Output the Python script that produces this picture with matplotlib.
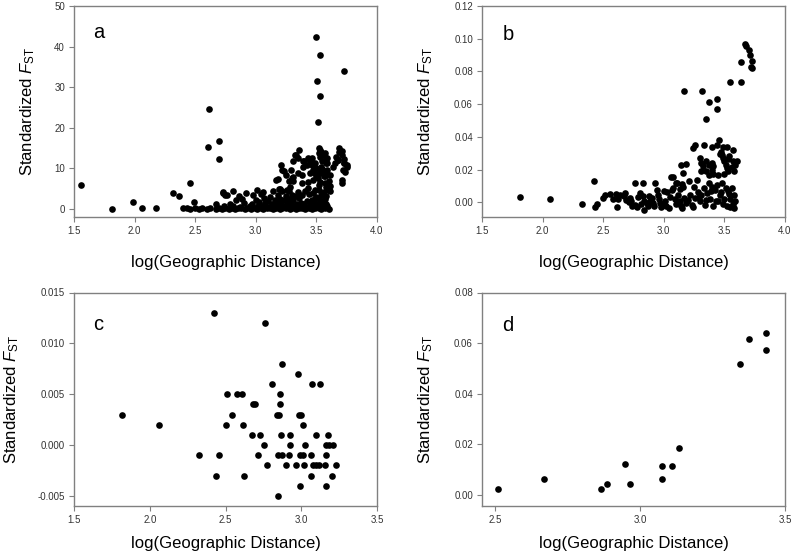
import matplotlib
matplotlib.use('Agg')
import matplotlib.pyplot as plt

plt.rcParams['font.family'] = ['Liberation Sans', 'DejaVu Sans']
plt.rcParams['mathtext.fontset'] = 'custom'
plt.rcParams['mathtext.rm'] = 'Liberation Sans'
plt.rcParams['mathtext.it'] = 'Liberation Sans:italic'

# ---------------- Panel a ----------------
a_x = [1.554, 1.815, 1.986, 2.06, 2.173, 2.316, 2.363, 2.454, 2.49, 2.40, 2.43, 2.46, 2.50, 2.53, 2.56, 2.60, 2.62,
       2.611, 2.608, 2.693, 2.693, 2.674, 2.73, 2.75,
       # row ~0
       2.67, 2.70, 2.72, 2.75, 2.78, 2.80, 2.83, 2.85, 2.88, 2.91, 2.93, 2.96, 2.99, 3.01, 3.04, 3.06, 3.09, 3.12,
       3.14, 3.17, 3.20, 3.22, 3.25, 3.28, 3.30, 3.33, 3.36, 3.38, 3.41, 3.44, 3.46, 3.49, 3.52, 3.54, 3.57, 3.60,
       # row ~0.6
       2.74, 2.81, 2.87, 2.95, 3.02, 3.05, 3.11, 3.15, 3.19, 3.24, 3.27, 3.32, 3.35, 3.39, 3.43, 3.47, 3.50, 3.53,
       3.56, 3.59,
       # row ~1.4
       2.79, 2.90, 2.97, 3.03, 3.08, 3.13, 3.18, 3.21, 3.26, 3.29, 3.34, 3.37, 3.40, 3.45, 3.48, 3.51, 3.55, 3.58,
       # row ~2.3
       2.84, 2.89, 3.00, 3.07, 3.10, 3.16, 3.20, 3.23, 3.28, 3.31, 3.36, 3.42, 3.46, 3.49, 3.53, 3.57,
       # row ~3.3
       2.76, 2.86, 2.98, 3.04, 3.12, 3.18, 3.25, 3.30, 3.33, 3.38, 3.44, 3.50, 3.54, 3.58,
       # row ~4.3
       2.73, 2.81, 2.92, 3.01, 3.06, 3.14, 3.22, 3.35, 3.41, 3.47, 3.52, 3.56,
       # tall outliers
       3.50, 3.527, 3.505, 3.527, 3.517, 3.728,
       # upper cluster
       3.53, 3.52, 3.36, 3.32, 3.35, 3.39, 3.42, 3.45, 3.46, 3.49,
       3.69, 3.71, 3.68, 3.73, 3.75, 3.74, 3.71,
       3.21, 3.22, 3.29, 3.18, 3.31, 3.38, 3.43, 3.25, 3.38, 3.28, 3.20, 3.27,
       3.50, 3.53, 3.54, 3.56, 3.57, 3.58, 3.60, 3.51, 3.52, 3.49, 3.55, 3.58, 3.59, 3.61, 3.53, 3.57, 3.59, 3.49,
       3.47, 3.45,
       3.69, 3.71, 3.73, 3.75, 3.72, 3.71, 3.66, 3.64, 3.68, 3.73, 3.65,
       3.23, 3.17, 3.19, 3.26, 3.31, 3.27, 3.30, 3.35, 3.39, 3.43, 3.33, 3.31, 3.40, 3.43, 3.46, 3.52, 3.54, 3.55,
       3.58, 3.59, 3.55, 3.53, 3.50, 3.57, 3.60, 3.61, 3.61, 3.53, 3.58, 3.47]
a_y = [5.9, 0.0, 1.8, 0.1, 0.1, 3.9, 3.2, 6.4, 1.6, 0.1, 0.1, 0.0, 0.1, 0.0, 0.1, 0.0, 0.2,
       24.5, 15.3, 16.8, 12.3, 1.2, 4.0, 3.5,
       0.0, 0.1, 0.0, 0.2, 0.0, 0.1, 0.0, 0.2, 0.1, 0.0, 0.1, 0.0, 0.2, 0.0, 0.1, 0.0, 0.2, 0.1,
       0.0, 0.1, 0.0, 0.2, 0.1, 0.0, 0.1, 0.0, 0.2, 0.1, 0.0, 0.1, 0.0, 0.2, 0.1, 0.0, 0.1, 0.0,
       0.6, 0.7, 0.5, 0.8, 0.6, 0.7, 0.5, 0.8, 0.6, 0.7, 0.5, 0.8, 0.6, 0.7, 0.5, 0.8, 0.6, 0.7,
       0.5, 0.8,
       1.3, 1.5, 1.2, 1.6, 1.4, 1.3, 1.5, 1.2, 1.6, 1.4, 1.3, 1.5, 1.2, 1.6, 1.4, 1.3, 1.5, 1.2,
       2.1, 2.4, 2.2, 2.6, 2.0, 2.3, 2.5, 2.1, 2.4, 2.2, 2.6, 2.0, 2.3, 2.5, 2.1, 2.4,
       3.4, 3.1, 3.3, 3.6, 3.0, 3.5, 3.2, 3.4, 3.1, 3.3, 3.6, 3.0, 3.5, 3.2,
       4.2, 4.4, 4.0, 4.6, 4.1, 4.3, 4.5, 4.2, 4.4, 4.0, 4.6, 4.1,
       42.3, 37.9, 31.5, 27.7, 21.3, 33.9,
       14.5, 13.7, 14.4, 13.3, 12.5, 11.7, 10.8, 11.7, 12.5, 11.2,
       14.1, 13.3, 12.1, 11.4, 10.4, 9.2, 6.3,
       10.8, 9.6, 9.6, 7.3, 7.8, 6.3, 6.7, 8.4, 8.4, 5.5, 4.8, 4.5,
       10.0, 8.8, 10.4, 8.0, 6.3, 5.5, 4.7, 7.6, 5.9, 4.7, 11.7, 11.2, 9.6, 8.4, 12.9, 13.7, 12.5, 8.8,
       7.1, 8.8,
       15.0, 14.3, 12.2, 10.8, 9.5, 7.0, 12.8, 10.4, 12.0, 11.2, 11.2,
       9.4, 7.2, 5.0, 4.6, 6.8, 6.8, 7.6, 8.8, 10.4, 5.1, 13.4, 11.8, 11.9, 12.5, 10.8, 15.0, 13.9, 13.4,
       12.5, 11.3, 9.9, 9.0, 8.2, 8.2, 6.9, 5.6, 4.5, 6.6, 9.0, 9.5]

# ---------------- Panel b ----------------
b_x = [1.816, 2.062, 2.322, 2.421, 2.43, 2.45, 2.50, 2.517, 2.56, 2.582, 2.607, 2.618, 2.615,
       2.68, 2.67, 2.69, 2.71, 2.73, 2.76, 2.78, 2.76, 2.83, 2.80, 2.83, 2.84, 2.86, 2.87, 2.89, 2.90, 2.91,
       2.84, 2.93, 2.94, 2.95, 2.96, 2.97, 2.98, 2.99, 3.01, 3.03, 3.05, 3.06, 3.08, 3.09, 3.10, 3.11, 3.12,
       3.13, 3.14, 3.15, 3.17, 3.18, 3.19, 2.64, 2.72, 2.74, 2.79, 2.81, 2.88, 2.92, 3.00, 3.02, 3.04, 3.07,
       3.16, 3.20, 3.21, 3.22, 3.23, 3.25, 3.26, 3.27, 3.28, 3.30, 3.31, 3.33, 3.34, 3.36, 3.37, 3.38, 3.40,
       3.41, 3.42, 3.44, 3.45, 3.46, 3.47, 3.48, 3.50, 3.51, 3.52, 3.53, 3.54, 3.55, 3.56, 3.57, 3.58, 3.59,
       3.24, 3.29, 3.35, 3.39, 3.43, 3.49, 3.55, 3.58,
       # mid cluster
       3.456, 3.437, 3.396, 3.330, 3.259, 3.240, 3.524, 3.567, 3.47, 3.48, 3.49, 3.50, 3.51, 3.52, 3.53,
       3.572, 3.60, 3.59, 3.58, 3.30, 3.305, 3.32, 3.35, 3.37, 3.40, 3.41, 3.31, 3.35, 3.37, 3.40, 3.41,
       3.14, 3.18, 3.16, 3.08, 3.10, 3.15, 3.13, 3.46, 3.49, 3.54, 3.56, 3.45, 3.50, 3.53,
       # upper
       3.670, 3.675, 3.700, 3.714, 3.640, 3.728, 3.72, 3.728, 3.549, 3.637, 3.169, 3.317, 3.377, 3.440,
       3.440, 3.349]
b_y = [0.003, 0.0018, -0.001, 0.0132, -0.003, -0.001, 0.0026, 0.0047, 0.0051, 0.0022, 0.0051, 0.0018, -0.003,
       0.0057, 0.0037, 0.0016, 0.0, 0.001, -0.0014, -0.003, 0.0118, 0.0118, 0.0057, 0.0037, 0.001, -0.0005,
       -0.002, 0.0006, 0.0026, -0.0005,
       -0.005, 0.0118, 0.0077, 0.0047, 0.002, -0.0005, -0.003, -0.0014, 0.001, 0.006, 0.0035, 0.0153, 0.009,
       0.002, -0.001, 0.012, 0.0047,
       0.0006, -0.002, -0.0035, 0.0026, -0.0005, 0.0006, 0.0045, 0.0025, -0.002, 0.0035, -0.001, 0.004,
       -0.0025, 0.0066, -0.002, -0.0035, 0.0075,
       0.0095, 0.0012, 0.0128, 0.0045, -0.0015, 0.0095, 0.0025, 0.0135, 0.006, 0.001, 0.0045, 0.0085, -0.0015,
       0.0055, 0.0118, 0.002, 0.0095, -0.0025, 0.0075, 0.0105, 0.0008, 0.0045, 0.006, 0.0115, 0.002, 0.009,
       -0.0025, 0.0068, 0.0048, 0.0022, 0.0085, -0.001, 0.0042, 0.0008,
       -0.0028, 0.0035, 0.0015, 0.0068, 0.0005, -0.001, -0.003, -0.0035,
       0.0383, 0.0348, 0.0338, 0.0348, 0.0348, 0.0332, 0.0338, 0.0318, 0.031, 0.029, 0.027, 0.025, 0.023,
       0.021, 0.019,
       0.0255, 0.0255, 0.0226, 0.019, 0.027, 0.024, 0.022, 0.025, 0.023, 0.024, 0.022, 0.019, 0.019, 0.0165,
       0.020, 0.017,
       0.023, 0.0236, 0.018, 0.0153, 0.0118, 0.011, 0.008, 0.0295, 0.0335, 0.0285, 0.0215, 0.0165, 0.0175,
       0.0265,
       0.0967, 0.0955, 0.0933, 0.0902, 0.0855, 0.0866, 0.083, 0.082, 0.0737, 0.0737, 0.068, 0.068, 0.0613,
       0.0633, 0.0568, 0.0511]

# ---------------- Panel c ----------------
c_x = [2.424, 2.764, 2.872, 2.976, 2.808, 3.071, 3.124, 2.510, 2.574, 2.611, 2.861, 2.684, 2.695, 2.861,
       1.815, 2.545, 2.839, 2.854, 2.982, 2.997, 2.060, 2.503, 2.616, 3.009,
       2.673, 2.726, 2.868, 2.925, 3.095, 3.174, 2.757, 2.925, 3.025, 3.161, 3.183, 3.207,
       2.322, 2.457, 2.713, 2.846, 2.872, 2.920, 2.993, 3.009, 3.062, 3.161,
       2.777, 2.901, 2.965, 3.015, 3.075, 3.095, 3.117, 3.159, 3.230,
       2.437, 2.623, 3.064, 3.203, 2.995, 3.163, 2.848]
c_y = [0.013, 0.012, 0.008, 0.007, 0.006, 0.006, 0.006, 0.005, 0.005, 0.005, 0.005, 0.004, 0.004, 0.004,
       0.003, 0.003, 0.003, 0.003, 0.003, 0.003, 0.002, 0.002, 0.002, 0.002,
       0.001, 0.001, 0.001, 0.001, 0.001, 0.001, 0.000, 0.000, 0.000, 0.000, 0.000, 0.000,
       -0.001, -0.001, -0.001, -0.001, -0.001, -0.001, -0.001, -0.001, -0.001, -0.001,
       -0.002, -0.002, -0.002, -0.002, -0.002, -0.002, -0.002, -0.002, -0.002,
       -0.003, -0.003, -0.003, -0.003, -0.004, -0.004, -0.005]

# ---------------- Panel d ----------------
d_x = [2.511, 2.669, 2.867, 2.886, 2.947, 2.967, 3.075, 3.076, 3.112, 3.134, 3.346, 3.376, 3.436, 3.436]
d_y = [0.0022, 0.0062, 0.0022, 0.0042, 0.0122, 0.0042, 0.0112, 0.0062, 0.0112, 0.0184, 0.0516, 0.0615,
       0.0638, 0.0571]

# ---------------- Axis setup ----------------
panels = ['a', 'b', 'c', 'd']
xlims = [(1.5, 4.0), (1.5, 4.0), (1.5, 3.5), (2.455, 3.5)]
ylims = [(-2, 50), (-0.009, 0.12), (-0.006, 0.015), (-0.0045, 0.08)]
xticks = [[1.5, 2.0, 2.5, 3.0, 3.5, 4.0], [1.5, 2.0, 2.5, 3.0, 3.5, 4.0],
          [1.5, 2.0, 2.5, 3.0, 3.5], [2.5, 3.0, 3.5]]
yticks = [[0, 10, 20, 30, 40, 50], [0.00, 0.02, 0.04, 0.06, 0.08, 0.10, 0.12],
          [-0.005, 0.000, 0.005, 0.010, 0.015], [0.00, 0.02, 0.04, 0.06, 0.08]]
yfmt = ['{:.0f}', '{:.2f}', '{:.3f}', '{:.2f}']
data = [(a_x, a_y), (b_x, b_y), (c_x, c_y), (d_x, d_y)]

W, H = 794, 559
boxes = [(74, 6, 377, 217), (482, 6, 785, 217), (74, 292.5, 377, 506), (482, 292.5, 785, 506)]
letter_pos = [(0.062, 0.848), (0.068, 0.84), (0.064, 0.825), (0.066, 0.82)]
ylab_x = [-0.122, -0.155, -0.175, -0.155]
xlab_y = [-0.178, -0.178, -0.142, -0.142]

fig = plt.figure(figsize=(7.94, 5.59), dpi=100)
spine_col = '#808080'
for i, (l, t, r, b) in enumerate(boxes):
    ax = fig.add_axes([l / W, 1 - b / H, (r - l) / W, (b - t) / H])
    x, y = data[i]
    ax.plot(x, y, 'o', color='black', markersize=4.8, markeredgewidth=0, clip_on=False)
    ax.set_xlim(*xlims[i])
    ax.set_ylim(*ylims[i])
    ax.set_xticks(xticks[i])
    ax.set_xticklabels(['{:.1f}'.format(v) for v in xticks[i]])
    ax.set_yticks(yticks[i])
    ax.set_yticklabels([yfmt[i].format(v) for v in yticks[i]])
    for s in ax.spines.values():
        s.set_color(spine_col)
        s.set_linewidth(1.0)
    ax.tick_params(direction='out', length=3.5, width=0.8, color=spine_col,
                   labelsize=7, labelcolor='#333333', pad=3)
    ax.set_xlabel('log(Geographic Distance)', fontsize=12)
    ax.set_ylabel(r'Standardized $\mathit{F}_{\mathrm{ST}}$', fontsize=12)
    ax.yaxis.set_label_coords(ylab_x[i], 0.5)
    ax.xaxis.set_label_coords(0.5, xlab_y[i])
    ax.text(letter_pos[i][0], letter_pos[i][1], panels[i], transform=ax.transAxes,
            fontsize=14.5, va='baseline', ha='left')

fig.savefig('out.png', dpi=100)
